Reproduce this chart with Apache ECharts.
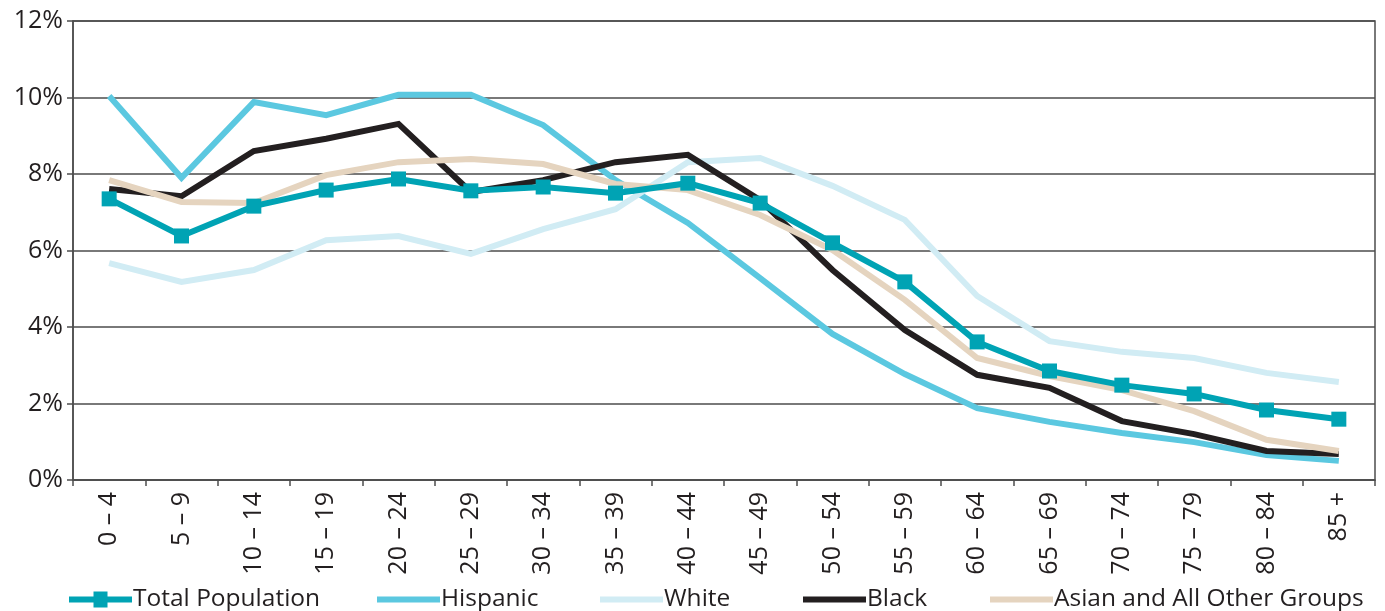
<!DOCTYPE html>
<html>
<head>
<meta charset="utf-8">
<script src="https://cdn.jsdelivr.net/npm/echarts@6/dist/echarts.min.js"></script>
<style>
  html, body { margin: 0; padding: 0; background: #fff; }
  #chart { width: 1385px; height: 611px; }
</style>
</head>
<body>
<div id="chart"></div>
<script>
// Age groups along the x axis
const ageGroups = ['0 – 4', '5 – 9', '10 – 14', '15 – 19', '20 – 24', '25 – 29', '30 – 34', '35 – 39',
  '40 – 44', '45 – 49', '50 – 54', '55 – 59', '60 – 64', '65 – 69', '70 – 74', '75 – 79', '80 – 84', '85 +'];

// Share of each group's population in each age band (%)
const totalPopulation = [7.35, 6.38, 7.16, 7.58, 7.87, 7.56, 7.66, 7.50, 7.76, 7.24, 6.20, 5.18, 3.61, 2.85, 2.48, 2.25, 1.83, 1.59];
const hispanic = [10.04, 7.90, 9.88, 9.54, 10.07, 10.07, 9.28, 7.84, 6.72, 5.28, 3.82, 2.77, 1.88, 1.52, 1.23, 0.99, 0.65, 0.50];
const white = [5.67, 5.18, 5.49, 6.27, 6.38, 5.91, 6.56, 7.08, 8.31, 8.42, 7.69, 6.80, 4.81, 3.63, 3.35, 3.19, 2.80, 2.56];
const black = [7.61, 7.42, 8.60, 8.92, 9.31, 7.53, 7.84, 8.31, 8.50, 7.32, 5.49, 3.92, 2.75, 2.41, 1.54, 1.20, 0.76, 0.68];
const asianOther = [7.84, 7.27, 7.24, 7.97, 8.31, 8.39, 8.26, 7.74, 7.58, 6.93, 6.01, 4.71, 3.19, 2.72, 2.35, 1.80, 1.05, 0.76];

// Y axis ticks (%)
const yTicks = [0, 2, 4, 6, 8, 10, 12];

const FONT = '"Open Sans", sans-serif';
const INK = '#231f20';
const RULE = '#4d4d4d';

// Legend glyph for the marked series: a bar with a square in the middle
const MARKED_ICON = 'path://M0,5h24.5v-5h14v5h24.5v6h-24.5v5h-14v-5h-24.5z';

const chart = echarts.init(document.getElementById('chart'), null, { renderer: 'canvas' });

function lineSeries(name, data, color, width, z, withMarker) {
  return {
    name, type: 'line', data, z,
    symbol: withMarker ? 'rect' : 'none',
    symbolSize: 15,
    showSymbol: withMarker,
    itemStyle: { color },
    lineStyle: { color, width, cap: 'butt', join: 'miter' },
    emphasis: { disabled: true },
    animation: false
  };
}

function legendAt(name, left, color, marked) {
  return {
    data: [{ name, icon: marked ? MARKED_ICON : 'rect', itemStyle: { color } }],
    left, top: 587, padding: 0,
    itemWidth: 63, itemHeight: marked ? 16 : 6, itemGap: 0,
    textStyle: { fontFamily: FONT, fontSize: 24.5, color: INK, padding: [0, 0, 0, -4] },
    selectedMode: false
  };
}

const COLORS = {
  total: '#00a3b4', hispanic: '#5bc8e0', white: '#d1ecf4', black: '#231f20', asian: '#e5d4bf'
};

chart.setOption({
  backgroundColor: '#fff',
  animation: false,
  grid: {
    left: 73, right: 10, top: 21, bottom: 131,
    show: true, borderColor: RULE, borderWidth: 1.5, backgroundColor: 'transparent'
  },
  legend: [
    legendAt('Total Population', 69, COLORS.total, true),
    legendAt('Hispanic', 377, COLORS.hispanic, false),
    legendAt('White', 600, COLORS.white, false),
    legendAt('Black', 803, COLORS.black, false),
    legendAt('Asian and All Other Groups', 990, COLORS.asian, false)
  ],
  xAxis: {
    type: 'category',
    data: ageGroups,
    boundaryGap: true,
    axisLine: { lineStyle: { color: RULE, width: 1.5 } },
    axisTick: { show: true, alignWithLabel: false, length: 6, lineStyle: { color: RULE, width: 1.5 } },
    axisLabel: { rotate: 90, fontFamily: FONT, fontSize: 25, color: INK, margin: 12, interval: 0 }
  },
  yAxis: {
    type: 'value',
    min: yTicks[0], max: yTicks[yTicks.length - 1], interval: 2,
    axisLine: { show: true, lineStyle: { color: RULE, width: 1.5 } },
    axisTick: { show: true, length: 6, lineStyle: { color: RULE, width: 1.5 } },
    splitLine: { show: true, lineStyle: { color: RULE, width: 1.5 } },
    axisLabel: { formatter: v => v + '%', fontFamily: FONT, fontSize: 25, color: INK, margin: 10 }
  },
  series: [
    lineSeries('Hispanic', hispanic, COLORS.hispanic, 6, 2, false),
    lineSeries('White', white, COLORS.white, 6, 2, false),
    lineSeries('Black', black, COLORS.black, 6, 3, false),
    lineSeries('Asian and All Other Groups', asianOther, COLORS.asian, 6, 4, false),
    lineSeries('Total Population', totalPopulation, COLORS.total, 6, 5, true)
  ]
});
</script>
</body>
</html>
